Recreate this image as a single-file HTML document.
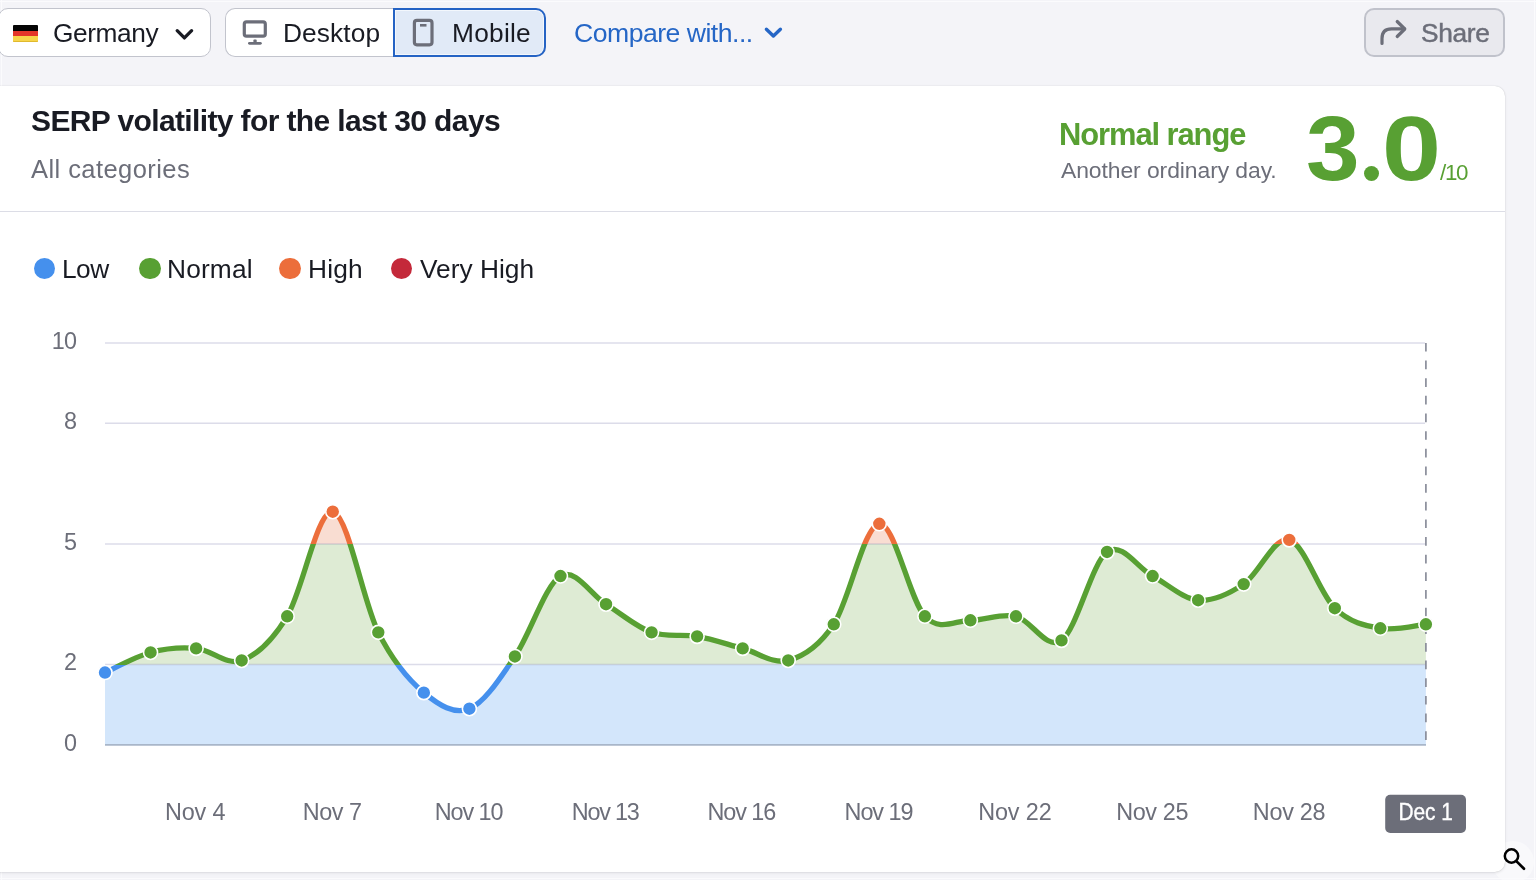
<!DOCTYPE html>
<html><head><meta charset="utf-8"><title>SERP volatility</title>
<style>
html,body{margin:0;padding:0;width:1536px;height:880px;overflow:hidden;background:#f4f4f8;font-family:"Liberation Sans",sans-serif;color:#191b23;}
.abs{position:absolute;}
.t{position:absolute;white-space:nowrap;line-height:1;will-change:transform;}
.big{font-weight:bold;color:#58a033;transform-origin:0 0;}
.btn{position:absolute;box-sizing:border-box;border:1.8px solid #c2c4cd;border-radius:10px;background:#fff;}
.card{position:absolute;left:-10px;top:86px;width:1515px;height:785.6px;box-sizing:border-box;background:#fff;border-radius:10px;box-shadow:0 0 1px rgba(25,27,35,.22),0 1px 3px rgba(25,27,35,.10);}
.divider{position:absolute;left:0;top:210.8px;width:1505px;height:1.5px;background:#dcdde6;}
.chart{position:absolute;left:0;top:0;will-change:transform;}
.chart text{font-family:"Liberation Sans",sans-serif;}
.yl text{font-size:23.4px;fill:#6c6e79;letter-spacing:-0.9px;}
.xl text{font-size:23.4px;fill:#6c6e79;}
.dec{font-size:23.4px;fill:#fff;stroke:#fff;stroke-width:0.35px;}
.leg{position:absolute;top:258.2px;width:21.2px;height:21.2px;border-radius:50%;}
</style></head><body>
<!-- top bar -->
<div class="abs" style="left:0;top:1px;width:1536px;height:1px;background:#fbfbfd;"></div>
<div class="abs" style="left:1px;top:0;width:1.2px;height:880px;background:#fbfbfd;"></div>
<div class="btn" style="left:-2.5px;top:8px;width:213px;height:49px;"></div>
<div class="abs" style="left:13.3px;top:24.8px;width:24.7px;height:17.2px;">
  <div style="height:5.8px;background:#050505;border-radius:1px 1px 0 0;"></div>
  <div style="height:5.7px;background:#e4362a;"></div>
  <div style="height:5.7px;background:#f7d54a;border-radius:0 0 1px 1px;box-shadow:inset 0 -1px 0 #e0b92e;"></div>
</div>
<svg class="abs" style="left:174px;top:27px" width="21" height="15" viewBox="0 0 21 15"><path d="M3.2 3.7 L10.4 10.9 L17.6 3.7" fill="none" stroke="#191b23" stroke-width="3.3" stroke-linecap="round" stroke-linejoin="round"/></svg>

<div class="btn" style="left:225px;top:8px;width:170px;height:49px;border-radius:10px 0 0 10px;border-right:none;"></div>
<svg class="abs" style="left:240px;top:18px" width="30" height="30" viewBox="0 0 30 30"><rect x="4.3" y="3.9" width="21" height="14.2" rx="2.2" fill="none" stroke="#6c6e79" stroke-width="3.2"/><rect x="13.4" y="21.6" width="3.3" height="3" rx="0.8" fill="#6c6e79"/><path d="M9.4 25.35 H20.4" stroke="#6c6e79" stroke-width="2.8" stroke-linecap="round"/></svg>

<div class="abs" style="left:393px;top:8px;width:153px;height:49px;box-sizing:border-box;border:2px solid #2563c4;border-radius:0 10px 10px 0;background:#e1eaf7;box-shadow:inset 0 0 0 1px rgba(255,255,255,.6);"></div>
<svg class="abs" style="left:410px;top:17px" width="28" height="32" viewBox="0 0 28 32"><rect x="4.4" y="3.4" width="17.6" height="24.4" rx="2.5" fill="none" stroke="#6c6e79" stroke-width="3.2"/><path d="M10 8.3 H16.5" stroke="#6c6e79" stroke-width="2.6"/></svg>

<svg class="abs" style="left:762px;top:24px" width="22" height="16" viewBox="0 0 22 16"><path d="M4.4 5.2 L11.4 12 L18.4 5.2" fill="none" stroke="#2566c6" stroke-width="3.4" stroke-linecap="round" stroke-linejoin="round"/></svg>

<div class="btn" style="left:1364.4px;top:8px;width:140.6px;height:49px;background:#e9e9ee;border-color:#c0c2cb;border-width:2px;"></div>
<svg class="abs" style="left:1375px;top:17px" width="36" height="32" viewBox="0 0 36 32"><path d="M7 26.4 V21.5 Q7 11.8 16.5 11.8 H29.5" fill="none" stroke="#6c6e79" stroke-width="3.2" stroke-linecap="round"/><path d="M22.2 4.5 L29.8 12 L22.2 19.5" fill="none" stroke="#6c6e79" stroke-width="3.2" stroke-linecap="round" stroke-linejoin="round"/></svg>

<!-- zoom button bg -->
<div class="abs" style="left:1492px;top:841px;width:42px;height:42px;border-radius:50%;background:#f9f9fb;"></div>
<div class="abs" style="left:0;top:878px;width:1536px;height:1px;background:#fbfbfd;"></div>
<div class="abs" style="left:1534px;top:0;width:1px;height:880px;background:#fbfbfd;"></div>
<!-- card -->
<div class="card"></div>
<div class="divider"></div>

<!-- legend -->
<div class="leg" style="left:34.3px;background:#4590ed;"></div>
<div class="leg" style="left:139.4px;background:#58a033;"></div>
<div class="leg" style="left:279.4px;background:#ec6e3b;"></div>
<div class="leg" style="left:390.6px;background:#c4293a;"></div>

<div class="t" style="left:53.08px;top:20px;font-size:26.3px;letter-spacing:-0.413px;color:#191b23;">Germany</div>
<div class="t" style="left:282.7px;top:20px;font-size:26.3px;letter-spacing:0.111px;color:#191b23;">Desktop</div>
<div class="t" style="left:451.6px;top:20px;font-size:26.3px;letter-spacing:0.247px;color:#191b23;">Mobile</div>
<div class="t" style="left:574.27px;top:20px;font-size:26.6px;letter-spacing:-0.505px;color:#2566c6;">Compare with...</div>
<div class="t" style="left:1420.52px;top:20px;font-size:26.3px;letter-spacing:-0.331px;color:#6c6e79;-webkit-text-stroke:0.45px #6c6e79;">Share</div>
<div class="t" style="left:30.7px;top:106px;font-size:30.0px;letter-spacing:-0.619px;color:#191b23;font-weight:bold;">SERP volatility for the last 30 days</div>
<div class="t" style="left:31.0px;top:157px;font-size:25.5px;letter-spacing:0.436px;color:#6c6e79;">All categories</div>
<div class="t" style="left:1059.29px;top:120px;font-size:30.9px;letter-spacing:-1.069px;color:#58a033;font-weight:bold;">Normal range</div>
<div class="t" style="left:1060.5px;top:159px;font-size:22.9px;letter-spacing:-0.072px;color:#6c6e79;">Another ordinary day.</div>
<div class="t" style="left:61.9px;top:256px;font-size:26.3px;letter-spacing:-0.528px;color:#191b23;">Low</div>
<div class="t" style="left:166.8px;top:256px;font-size:26.3px;letter-spacing:0.165px;color:#191b23;">Normal</div>
<div class="t" style="left:307.6px;top:256px;font-size:26.3px;letter-spacing:0.222px;color:#191b23;">High</div>
<div class="t" style="left:419.67px;top:256px;font-size:26.3px;letter-spacing:0.016px;color:#191b23;">Very High</div>
<div class="t" style="left:1440.3px;top:162px;font-size:22.4px;letter-spacing:-1.276px;color:#58a033;">/10</div>
<div class="t big" style="left:1305.5px;top:104.00px;font-size:90.8px;transform:scaleX(1.061);">3</div>
<div class="t big" style="left:1381.96px;top:104.00px;font-size:90.8px;transform:scaleX(1.1686);">0</div>
<div class="abs" style="left:1363.6px;top:165.7px;width:15.2px;height:15.2px;border-radius:50%;background:#58a033;"></div>
<svg class="chart" width="1536" height="880" viewBox="0 0 1536 880">
<defs>
<clipPath id="ac"><path d="M105,672.54C112.59,669.19,135.37,656.46,150.55,652.44C165.73,648.42,180.91,647.08,196.1,648.42C211.28,649.76,226.46,665.84,241.64,660.48C256.83,655.12,272.01,641.05,287.19,616.26C302.37,591.47,317.56,509.06,332.74,511.74C347.92,514.42,363.11,602.19,378.29,632.34C393.47,662.49,408.65,679.91,423.84,692.64C439.02,705.37,454.2,714.75,469.38,708.72C484.57,702.69,499.75,678.57,514.93,656.46C530.11,634.35,545.3,584.77,560.48,576.06C575.66,567.35,590.85,594.82,606.03,604.2C621.21,613.58,636.39,626.98,651.58,632.34C666.76,637.7,681.94,633.68,697.12,636.36C712.31,639.04,727.49,644.4,742.67,648.42C757.85,652.44,773.04,664.5,788.22,660.48C803.4,656.46,818.59,647.08,833.77,624.3C848.95,601.52,864.13,525.14,879.32,523.8C894.5,522.46,909.68,600.18,924.86,616.26C940.05,632.34,955.23,620.28,970.41,620.28C985.59,620.28,1000.78,612.91,1015.96,616.26C1031.14,619.61,1046.33,651.1,1061.51,640.38C1076.69,629.66,1091.87,562.66,1107.06,551.94C1122.24,541.22,1137.42,568.02,1152.6,576.06C1167.79,584.1,1182.97,598.84,1198.15,600.18C1213.33,601.52,1228.52,594.15,1243.7,584.1C1258.88,574.05,1274.07,535.86,1289.25,539.88C1304.43,543.9,1319.61,593.48,1334.8,608.22C1349.98,622.96,1365.16,625.64,1380.34,628.32C1395.53,631,1418.3,624.97,1425.89,624.3L1425.89,744.9L105,744.9Z"/></clipPath>
<linearGradient id="lg" gradientUnits="userSpaceOnUse" x1="0" y1="342.9" x2="0" y2="744.9">
<stop offset="0" stop-color="#c4293a"/>
<stop offset="0.2000" stop-color="#c4293a"/>
<stop offset="0.2000" stop-color="#ec6e3b"/>
<stop offset="0.5000" stop-color="#ec6e3b"/>
<stop offset="0.5000" stop-color="#58a033"/>
<stop offset="0.8000" stop-color="#58a033"/>
<stop offset="0.8000" stop-color="#4590ed"/>
<stop offset="1" stop-color="#4590ed"/>
</linearGradient>
</defs>
<g clip-path="url(#ac)">
<rect x="100" y="664.5" width="1330" height="80.4" fill="#d3e6fb"/>
<rect x="100" y="543.9" width="1330" height="120.6" fill="#deebd4"/>
<rect x="100" y="423.3" width="1330" height="120.6" fill="#f9ddd2"/>
<rect x="100" y="322.9" width="1330" height="100.4" fill="#f3d4d6"/>
</g>
<g stroke="rgba(88,90,150,0.21)" stroke-width="1.5">
<line x1="105" x2="1425" y1="342.9" y2="342.9"/>
<line x1="105" x2="1425" y1="423.3" y2="423.3"/>
<line x1="105" x2="1425" y1="543.9" y2="543.9"/>
<line x1="105" x2="1425" y1="664.5" y2="664.5"/>
</g>
<line x1="105" x2="1426" y1="744.9" y2="744.9" stroke="#a8b6c9" stroke-width="1.6"/>
<line x1="1425.9" x2="1425.9" y1="342.9" y2="744.9" stroke="#8a8e9b" stroke-width="1.7" stroke-dasharray="8.7 8.95"/>
<path d="M105,672.54C112.59,669.19,135.37,656.46,150.55,652.44C165.73,648.42,180.91,647.08,196.1,648.42C211.28,649.76,226.46,665.84,241.64,660.48C256.83,655.12,272.01,641.05,287.19,616.26C302.37,591.47,317.56,509.06,332.74,511.74C347.92,514.42,363.11,602.19,378.29,632.34C393.47,662.49,408.65,679.91,423.84,692.64C439.02,705.37,454.2,714.75,469.38,708.72C484.57,702.69,499.75,678.57,514.93,656.46C530.11,634.35,545.3,584.77,560.48,576.06C575.66,567.35,590.85,594.82,606.03,604.2C621.21,613.58,636.39,626.98,651.58,632.34C666.76,637.7,681.94,633.68,697.12,636.36C712.31,639.04,727.49,644.4,742.67,648.42C757.85,652.44,773.04,664.5,788.22,660.48C803.4,656.46,818.59,647.08,833.77,624.3C848.95,601.52,864.13,525.14,879.32,523.8C894.5,522.46,909.68,600.18,924.86,616.26C940.05,632.34,955.23,620.28,970.41,620.28C985.59,620.28,1000.78,612.91,1015.96,616.26C1031.14,619.61,1046.33,651.1,1061.51,640.38C1076.69,629.66,1091.87,562.66,1107.06,551.94C1122.24,541.22,1137.42,568.02,1152.6,576.06C1167.79,584.1,1182.97,598.84,1198.15,600.18C1213.33,601.52,1228.52,594.15,1243.7,584.1C1258.88,574.05,1274.07,535.86,1289.25,539.88C1304.43,543.9,1319.61,593.48,1334.8,608.22C1349.98,622.96,1365.16,625.64,1380.34,628.32C1395.53,631,1418.3,624.97,1425.89,624.3" fill="none" stroke="url(#lg)" stroke-width="5.3" stroke-linejoin="round" stroke-linecap="round"/>
<circle cx="105" cy="672.54" r="7" fill="#4590ed" stroke="#fff" stroke-width="1.6"/><circle cx="150.55" cy="652.44" r="7" fill="#58a033" stroke="#fff" stroke-width="1.6"/><circle cx="196.1" cy="648.42" r="7" fill="#58a033" stroke="#fff" stroke-width="1.6"/><circle cx="241.64" cy="660.48" r="7" fill="#58a033" stroke="#fff" stroke-width="1.6"/><circle cx="287.19" cy="616.26" r="7" fill="#58a033" stroke="#fff" stroke-width="1.6"/><circle cx="332.74" cy="511.74" r="7" fill="#ec6e3b" stroke="#fff" stroke-width="1.6"/><circle cx="378.29" cy="632.34" r="7" fill="#58a033" stroke="#fff" stroke-width="1.6"/><circle cx="423.84" cy="692.64" r="7" fill="#4590ed" stroke="#fff" stroke-width="1.6"/><circle cx="469.38" cy="708.72" r="7" fill="#4590ed" stroke="#fff" stroke-width="1.6"/><circle cx="514.93" cy="656.46" r="7" fill="#58a033" stroke="#fff" stroke-width="1.6"/><circle cx="560.48" cy="576.06" r="7" fill="#58a033" stroke="#fff" stroke-width="1.6"/><circle cx="606.03" cy="604.2" r="7" fill="#58a033" stroke="#fff" stroke-width="1.6"/><circle cx="651.58" cy="632.34" r="7" fill="#58a033" stroke="#fff" stroke-width="1.6"/><circle cx="697.12" cy="636.36" r="7" fill="#58a033" stroke="#fff" stroke-width="1.6"/><circle cx="742.67" cy="648.42" r="7" fill="#58a033" stroke="#fff" stroke-width="1.6"/><circle cx="788.22" cy="660.48" r="7" fill="#58a033" stroke="#fff" stroke-width="1.6"/><circle cx="833.77" cy="624.3" r="7" fill="#58a033" stroke="#fff" stroke-width="1.6"/><circle cx="879.32" cy="523.8" r="7" fill="#ec6e3b" stroke="#fff" stroke-width="1.6"/><circle cx="924.86" cy="616.26" r="7" fill="#58a033" stroke="#fff" stroke-width="1.6"/><circle cx="970.41" cy="620.28" r="7" fill="#58a033" stroke="#fff" stroke-width="1.6"/><circle cx="1015.96" cy="616.26" r="7" fill="#58a033" stroke="#fff" stroke-width="1.6"/><circle cx="1061.51" cy="640.38" r="7" fill="#58a033" stroke="#fff" stroke-width="1.6"/><circle cx="1107.06" cy="551.94" r="7" fill="#58a033" stroke="#fff" stroke-width="1.6"/><circle cx="1152.6" cy="576.06" r="7" fill="#58a033" stroke="#fff" stroke-width="1.6"/><circle cx="1198.15" cy="600.18" r="7" fill="#58a033" stroke="#fff" stroke-width="1.6"/><circle cx="1243.7" cy="584.1" r="7" fill="#58a033" stroke="#fff" stroke-width="1.6"/><circle cx="1289.25" cy="539.88" r="7" fill="#ec6e3b" stroke="#fff" stroke-width="1.6"/><circle cx="1334.8" cy="608.22" r="7" fill="#58a033" stroke="#fff" stroke-width="1.6"/><circle cx="1380.34" cy="628.32" r="7" fill="#58a033" stroke="#fff" stroke-width="1.6"/><circle cx="1425.89" cy="624.3" r="7" fill="#58a033" stroke="#fff" stroke-width="1.6"/>
<g class="yl" text-anchor="end">
<text x="76" y="349">10</text>
<text x="76" y="429">8</text>
<text x="76" y="550">5</text>
<text x="76" y="670">2</text>
<text x="76" y="751">0</text>
</g>
<g class="xl"><text x="164.93" y="820" letter-spacing="-0.150">Nov 4</text><text x="302.83" y="820" letter-spacing="-0.458">Nov 7</text><text x="434.73" y="820" letter-spacing="-1.054">Nov 10</text><text x="571.73" y="820" letter-spacing="-1.231">Nov 13</text><text x="707.43" y="820" letter-spacing="-1.051">Nov 16</text><text x="844.53" y="820" letter-spacing="-1.027">Nov 19</text><text x="978.23" y="820" letter-spacing="-0.124">Nov 22</text><text x="1116.13" y="820" letter-spacing="-0.351">Nov 25</text><text x="1252.83" y="820" letter-spacing="-0.291">Nov 28</text></g>
<rect x="1385.2" y="794.7" width="80.8" height="38.3" rx="5" fill="#6c6e79"/>
<text class="dec" x="0" y="0" transform="translate(1398.43,820) scale(0.8925,1)">Dec 1</text>
</svg>

<!-- zoom icon -->
<svg class="abs" style="left:1496px;top:840px" width="40" height="40" viewBox="0 0 40 40"><circle cx="15.5" cy="16" r="6.7" fill="none" stroke="#000" stroke-width="2.5"/><path d="M20.6 21.4 L28 28.8" stroke="#000" stroke-width="2.7" stroke-linecap="round"/></svg>
</body></html>
